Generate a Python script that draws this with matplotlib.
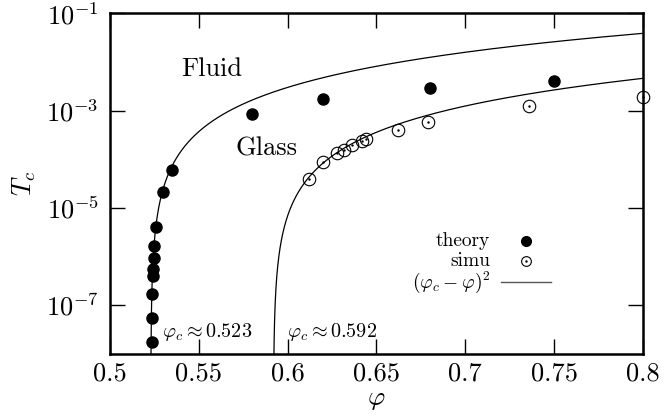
import numpy as np
import matplotlib
matplotlib.use("Agg")
import matplotlib.pyplot as plt

plt.rcParams['font.family'] = 'serif'
plt.rcParams['font.serif'] = ['cmr10']
plt.rcParams['mathtext.fontset'] = 'cm'
plt.rcParams['axes.unicode_minus'] = False
plt.rcParams['axes.formatter.use_mathtext'] = True

# theory (filled)
theory_phi = [0.5235, 0.5238, 0.5238, 0.5244, 0.5244, 0.5248, 0.5248, 0.526, 0.530, 0.535,
              0.580, 0.620, 0.680, 0.750]
theory_logT = [-7.77, -7.263, -6.776, -6.405, -6.267, -6.029, -5.782, -5.403, -4.671, -4.224,
               -3.078, -2.763, -2.543, -2.393]
# simulation (open)
simu_phi = [0.612, 0.620, 0.628, 0.632, 0.636, 0.6416, 0.644, 0.662, 0.679, 0.736, 0.800]
simu_logT = [-4.399, -4.060, -3.868, -3.819, -3.713, -3.634, -3.576, -3.391, -3.230, -2.907, -2.716]
# fits A*(phi - phi_c)^2
fit_phic = [0.523, 0.592]
fit_amp = [0.505, 0.1064]

fig = plt.figure(figsize=(6.66, 4.16), dpi=100)
ax = fig.add_axes([0.165, 0.1498, 0.8005, 0.8182])

for pc, A in zip(fit_phic, fit_amp):
    x = np.linspace(pc + 1e-7, 0.8, 4000)
    ax.plot(x, A * (x - pc) ** 2, color='black', lw=0.9, zorder=2)

tT = 10 ** np.array(theory_logT)
sT = 10 ** np.array(simu_logT)
ax.plot(theory_phi, tT, 'o', ms=8, color='black', zorder=3, clip_on=False)
ax.plot(simu_phi, sT, 'o', ms=9, mfc='none', mec='black', mew=0.8, zorder=3, clip_on=False)
ax.plot(simu_phi, sT, '.', ms=1.5, color='black', zorder=3, clip_on=False)

ax.set_xlim(0.5, 0.8)
ax.set_yscale('log')
ax.set_ylim(1e-8, 1e-1)
ax.set_xticks([0.5, 0.55, 0.6, 0.65, 0.7, 0.75, 0.8])
ax.set_xticklabels(['0.5', '0.55', '0.6', '0.65', '0.7', '0.75', '0.8'])
ax.set_yticks([1e-7, 1e-5, 1e-3, 1e-1])
ax.set_yticklabels([r'$10^{-7}$', r'$10^{-5}$', r'$10^{-3}$', r'$10^{-1}$'])
ax.minorticks_off()
ax.tick_params(which='major', direction='in', length=11, width=1.0,
               top=True, right=True, labelsize=19)
ax.tick_params(axis='x', pad=6)
ax.tick_params(axis='y', pad=8)
for s in ax.spines.values():
    s.set_linewidth(1.8)

ax.set_xlabel(r'$\varphi$', fontsize=19, labelpad=2)
ax.set_ylabel(r'$T_c$', fontsize=19, labelpad=6)

ax.text(0.540, 10 ** -2.15, 'Fluid', fontsize=19, va='center', ha='left')
ax.text(0.5705, 10 ** -3.78, 'Glass', fontsize=19, va='center', ha='left')
ax.text(0.5295, 10 ** -7.55, r'$\varphi_c \approx 0.523$', fontsize=14.5, va='center', ha='left')
ax.text(0.5995, 10 ** -7.55, r'$\varphi_c \approx 0.592$', fontsize=14.5, va='center', ha='left')

# legend drawn in axes fraction coordinates
rows = [('theory', 0.331), ('simu', 0.272), (r'$(\varphi_c - \varphi)^2$', 0.210)]
tx = (490 - 110) / 533.0
mx = (526 - 110) / 533.0
for lab, yy in rows:
    ax.text(tx, yy, lab, transform=ax.transAxes, fontsize=14, ha='right', va='center')
ax.plot([mx], [0.331], 'o', ms=7, color='black', transform=ax.transAxes)
ax.plot([mx], [0.272], 'o', ms=7, mfc='none', mec='black', mew=0.8, transform=ax.transAxes)
ax.plot([mx], [0.272], '.', ms=1.5, color='black', transform=ax.transAxes)
ax.plot([(501 - 110) / 533.0, (551 - 110) / 533.0], [0.210, 0.210], color='#555555', lw=1.0,
        transform=ax.transAxes)

fig.savefig('out.png', dpi=100)
